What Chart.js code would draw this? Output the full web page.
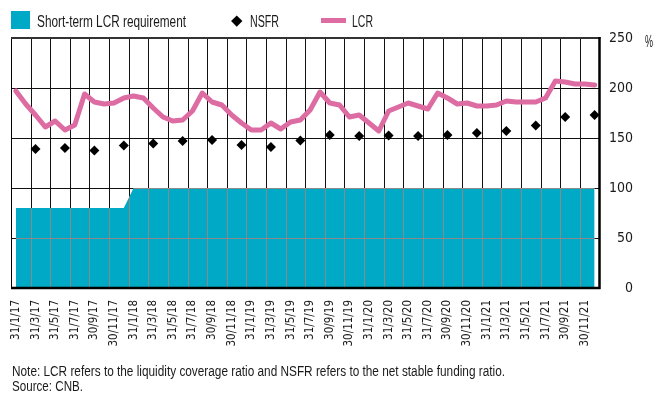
<!DOCTYPE html>
<html>
<head>
<meta charset="utf-8">
<script src="https://cdn.jsdelivr.net/npm/chart.js@4/dist/chart.umd.min.js"></script>
<style>
  html, body { margin: 0; padding: 0; background: #fff; }
  #wrap { position: relative; width: 667px; height: 397px; overflow: hidden; color: #1a1a1a; }
  canvas { position: absolute; left: 0; top: 0; }
  .sw { position: absolute; }
  .tx { position: absolute; white-space: nowrap; font-family: 'Liberation Sans', Arial, sans-serif;
        transform-origin: 0 0; }
  .lg { font-size: 16px; line-height: 16px; }
  .note { font-size: 14px; line-height: 14px; }
</style>
</head>
<body>
<div id="wrap">
  <canvas id="c" width="667" height="397"></canvas>
  <div class="sw" style="left:11px;top:11px;width:19px;height:18px;background:#00A9C5;"></div>
  <div class="tx lg" data-w="149" style="left:37px;top:13.8px;">Short-term LCR requirement</div>
  <div class="sw" style="left:233.25px;top:17.25px;width:7.5px;height:7.5px;background:#000;transform:rotate(45deg);"></div>
  <div class="tx lg" data-w="29" style="left:250px;top:13.8px;">NSFR</div>
  <div class="sw" style="left:321px;top:18.3px;width:25px;height:4.5px;background:#DD6CA3;"></div>
  <div class="tx lg" data-w="21" style="left:352px;top:13.8px;">LCR</div>
  <div class="tx lg" data-w="8" style="left:645px;top:33.5px;">%</div>
  <div class="tx note" data-w="493" style="left:12px;top:364.4px;">Note: LCR refers to the liquidity coverage ratio and NSFR refers to the net stable funding ratio.</div>
  <div class="tx note" data-w="71" style="left:12px;top:378.5px;">Source: CNB.</div>
</div>
<script>
// Month-end observation dates
const months = [
  '31/1/17','28/2/17','31/3/17','30/4/17','31/5/17','30/6/17','31/7/17','31/8/17','30/9/17','31/10/17','30/11/17','31/12/17',
  '31/1/18','28/2/18','31/3/18','30/4/18','31/5/18','30/6/18','31/7/18','31/8/18','30/9/18','31/10/18','30/11/18','31/12/18',
  '31/1/19','28/2/19','31/3/19','30/4/19','31/5/19','30/6/19','31/7/19','31/8/19','30/9/19','31/10/19','30/11/19','31/12/19',
  '31/1/20','29/2/20','31/3/20','30/4/20','31/5/20','30/6/20','31/7/20','31/8/20','30/9/20','31/10/20','30/11/20','31/12/20',
  '31/1/21','28/2/21','31/3/21','30/4/21','31/5/21','30/6/21','31/7/21','31/8/21','30/9/21','31/10/21','30/11/21','31/12/21'
];

// Short-term LCR requirement (%)
const lcrRequirement = [
  80,80,80,80,80,80,80,80,80,80,80,80,
  100,100,100,100,100,100,100,100,100,100,100,100,
  100,100,100,100,100,100,100,100,100,100,100,100,
  100,100,100,100,100,100,100,100,100,100,100,100,
  100,100,100,100,100,100,100,100,100,100,100,100
];

// Liquidity coverage ratio (%), monthly
const lcr = [
  197,184,173,161,167,158,163,194,186,184,185,190,
  192,190,180,171,167,168,177,195,186,183,173,165,
  158,158,165,159,166,168,178,196,185,183,171,173,
  165,157,177,181,185,182,179,195,190,184,185,182,
  182,183,187,186,186,186,190,207,206,204,204,203
];

// Net stable funding ratio (%), quarterly
const nsfr = [
  null,null,139,null,null,140,null,null,137.5,null,null,142.5,
  null,null,144.5,null,null,147,null,null,148,null,null,143,
  null,null,141,null,null,147.5,null,null,153,null,null,152,
  null,null,152.5,null,null,152,null,null,153,null,null,155,
  null,null,157,null,null,162.5,null,null,171,null,null,173
];

const yTicks = [0, 50, 100, 150, 200, 250];

// Condense the HTML captions to their set widths
document.querySelectorAll('.tx[data-w]').forEach(el => {
  const w = el.getBoundingClientRect().width;
  el.style.transform = 'scaleX(' + (parseFloat(el.dataset.w) / w) + ')';
});

const FONT = "'DejaVu Sans Condensed', 'Liberation Sans Narrow', sans-serif";
const TEAL = '#00A9C5';
const PINK = '#DD6CA3';

function drawGrid(chart, color) {
  const {ctx, chartArea: a, scales: {y}} = chart;
  ctx.save();
  ctx.strokeStyle = color;
  ctx.lineWidth = 1;
  ctx.beginPath();
  const n = months.length;
  const step = (a.right - a.left) / n;
  for (let i = 2; i < n; i += 2) {
    const px = Math.round(a.left + i * step) + 0.5;
    ctx.moveTo(px, a.top);
    ctx.lineTo(px, a.bottom);
  }
  yTicks.forEach(v => {
    if (v === 0 || v === 250) return;
    const py = Math.round(y.getPixelForValue(v)) + 0.5;
    ctx.moveTo(a.left, py);
    ctx.lineTo(a.right, py);
  });
  ctx.stroke();
  ctx.restore();
}

const framePlugin = {
  id: 'frame',
  beforeDatasetsDraw(chart) {
    drawGrid(chart, '#111');
  },
  afterDatasetDraw(chart, args) {
    if (args.index !== 0) return;
    const {ctx, chartArea: a} = chart;
    const pts = args.meta.data;
    ctx.save();
    ctx.beginPath();
    ctx.moveTo(pts[0].x, a.bottom);
    pts.forEach(p => ctx.lineTo(p.x, p.y));
    ctx.lineTo(pts[pts.length - 1].x, a.bottom);
    ctx.closePath();
    ctx.clip();
    drawGrid(chart, '#8a8a8a');
    ctx.restore();
  },
  afterDatasetsDraw(chart) {
    const {ctx, chartArea: a} = chart;
    ctx.save();
    ctx.strokeStyle = '#000';
    ctx.lineWidth = 1;
    ctx.beginPath();
    ctx.moveTo(a.left + 0.5, a.top);
    ctx.lineTo(a.left + 0.5, a.bottom);
    ctx.stroke();
    ctx.lineWidth = 2;
    ctx.strokeStyle = '#333';
    ctx.beginPath();
    ctx.moveTo(a.left, a.top);
    ctx.lineTo(a.right + 1, a.top);
    ctx.stroke();
    ctx.strokeStyle = '#000';
    ctx.lineWidth = 2.5;
    ctx.beginPath();
    ctx.moveTo(a.right, a.top - 1);
    ctx.lineTo(a.right, a.bottom + 1);
    ctx.moveTo(a.left, a.bottom);
    ctx.lineTo(a.right + 1, a.bottom);
    ctx.stroke();
    ctx.restore();
  }
};

new Chart(document.getElementById('c'), {
  type: 'line',
  data: {
    labels: months,
    datasets: [
      {
        label: 'Short-term LCR requirement',
        data: lcrRequirement,
        backgroundColor: TEAL,
        borderWidth: 0,
        borderColor: TEAL,
        fill: 'origin',
        pointRadius: 0,
        tension: 0,
        order: 3
      },
      {
        label: 'LCR',
        data: lcr,
        borderColor: PINK,
        borderWidth: 5,
        borderJoinStyle: 'round',
        borderCapStyle: 'round',
        fill: false,
        pointRadius: 0,
        tension: 0,
        order: 2
      },
      {
        label: 'NSFR',
        data: nsfr,
        showLine: false,
        pointStyle: 'rectRot',
        pointRadius: 5,
        pointBackgroundColor: '#000',
        pointBorderColor: '#000',
        pointBorderWidth: 0,
        order: 1
      }
    ]
  },
  options: {
    responsive: false,
    animation: false,
    events: [],
    layout: { padding: { left: 11, top: 38, right: 34, bottom: 0 } },
    plugins: { legend: { display: false }, tooltip: { enabled: false } },
    scales: {
      x: {
        type: 'category',
        offset: true,
        grid: { display: false, drawTicks: false },
        border: { display: false },
        afterFit(scale) { scale.height = 397 - 288; },
        ticks: {
          autoSkip: false,
          minRotation: 90,
          maxRotation: 90,
          padding: 12,
          color: '#1a1a1a',
          font: { family: FONT, size: 11.5 },
          callback(value, index) { return index % 2 === 0 ? months[index] : ''; }
        }
      },
      y: {
        position: 'right',
        min: 0,
        max: 250,
        grid: { display: false, drawTicks: false },
        border: { display: false },
        afterFit(scale) { scale.width = 633 - 599.5; },
        afterBuildTicks(scale) { scale.ticks = yTicks.map(v => ({ value: v })); },
        ticks: {
          crossAlign: 'far',
          padding: 12,
          color: '#1a1a1a',
          font: { family: FONT, size: 14 }
        }
      }
    }
  },
  plugins: [framePlugin]
});
</script>
</body>
</html>
